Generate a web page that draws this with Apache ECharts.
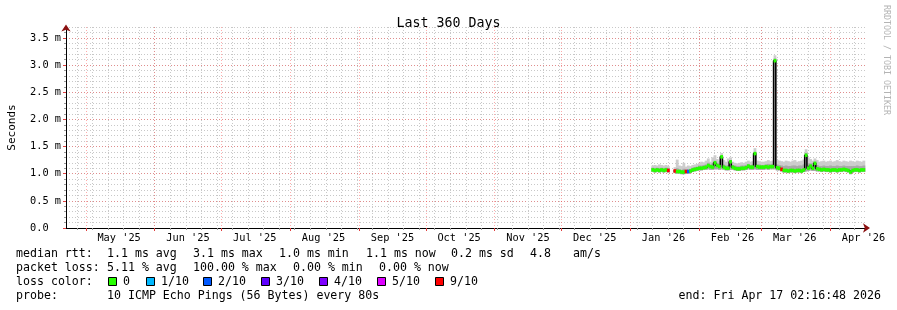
<!DOCTYPE html>
<html><head><meta charset="utf-8">
<script src="https://cdn.jsdelivr.net/npm/echarts@6/dist/echarts.min.js"></script>
<style>html,body{margin:0;padding:0;background:#fff}#c{width:897px;height:310px}</style>
</head><body><div id="c"></div>
<script>
// ---- data (one sample per day, starting at startDate) ----
const startDate = '2026-01-11';
const median = [1.07,1.06,1.07,1.06,1.07,1.06,1.07,1.06,null,null,
  1.05,1.04,1.04,1.03,1.03,1.04,1.04,
  1.05,1.07,1.08,1.09,1.10,1.10,1.11,1.12,1.15,1.13,1.12,1.20,1.15,1.13,1.31,1.12,1.10,1.10,1.22,1.12,1.10,1.09,1.09,1.10,
  1.10,1.11,1.14,1.12,1.12,1.37,1.13,1.12,1.12,1.12,1.13,1.12,1.13,1.13,3.08,1.11,1.10,1.08,1.06,1.06,
  1.05,1.06,1.06,1.05,1.06,1.06,1.05,1.07,1.34,1.10,1.14,1.10,1.19,1.09,1.08,1.07,1.08,1.07,1.07,1.06,
  1.07,1.07,1.06,1.07,1.07,1.08,1.07,1.06,1.03,1.06,1.07,1.07,1.06,1.07,1.07];
const smokeLo = [1.03,1.02,1.03,1.02,1.03,1.02,1.03,1.02,null,null,
  1.01,1.00,1.00,0.99,0.99,1.00,1.00,
  1.01,1.03,1.04,1.05,1.06,1.06,1.07,1.07,1.08,1.07,1.07,1.08,1.08,1.07,1.08,1.07,1.06,1.06,1.07,1.07,1.06,1.05,1.05,1.06,
  1.06,1.07,1.08,1.07,1.07,1.08,1.07,1.07,1.07,1.07,1.08,1.07,1.08,1.08,1.08,1.06,1.06,1.04,1.02,1.02,
  1.01,1.02,1.02,1.01,1.02,1.02,1.01,1.03,1.04,1.05,1.06,1.05,1.05,1.04,1.04,1.03,1.04,1.03,1.03,1.02,
  1.03,1.03,1.02,1.03,1.03,1.04,1.03,1.02,0.99,1.02,1.03,1.03,1.02,1.03,1.03];
const smokeMid = [1.11,1.10,1.11,1.10,1.11,1.10,1.11,1.10,null,null,
  1.08,1.10,1.08,1.07,1.09,1.08,1.08,
  1.09,1.11,1.12,1.13,1.15,1.15,1.16,1.17,1.20,1.17,1.19,1.24,1.20,1.17,1.33,1.17,1.15,1.16,1.24,1.16,1.15,1.14,1.14,1.15,
  1.15,1.16,1.18,1.16,1.17,1.40,1.17,1.17,1.16,1.16,1.17,1.18,1.17,1.18,3.12,1.17,1.16,1.15,1.14,1.15,
  1.14,1.14,1.15,1.15,1.14,1.15,1.15,1.17,1.38,1.19,1.19,1.16,1.22,1.16,1.14,1.14,1.15,1.14,1.14,1.15,
  1.14,1.14,1.15,1.14,1.14,1.15,1.14,1.14,1.14,1.14,1.14,1.15,1.14,1.14,1.15];
const smokeHi = [1.15,1.16,1.15,1.17,1.16,1.15,1.16,1.14,null,null,
  1.12,1.26,1.15,1.14,1.20,1.13,1.15,
  1.14,1.16,1.17,1.18,1.20,1.22,1.21,1.24,1.28,1.22,1.30,1.34,1.27,1.24,1.38,1.25,1.22,1.28,1.30,1.22,1.20,1.19,1.20,1.21,
  1.20,1.22,1.24,1.22,1.23,1.47,1.24,1.23,1.22,1.22,1.23,1.25,1.23,1.24,3.18,1.25,1.24,1.23,1.22,1.24,
  1.23,1.22,1.24,1.25,1.22,1.23,1.24,1.26,1.45,1.30,1.27,1.24,1.28,1.25,1.22,1.23,1.24,1.22,1.23,1.24,
  1.22,1.23,1.25,1.23,1.22,1.24,1.23,1.22,1.24,1.23,1.22,1.24,1.23,1.22,1.24];
// index into lossLabels / lossColors
const lossLevel = [0,0,0,0,0,0,0,6,null,null,
  6,0,0,0,0,6,2,
  0,0,0,0,0,0,0,0,0,0,0,0,0,0,0,0,0,0,0,0,0,0,0,0,
  0,0,0,0,0,0,0,0,0,0,0,0,0,0,0,0,0,6,0,0,
  0,0,0,0,0,0,0,0,0,0,0,0,0,0,0,0,0,0,0,0,
  0,0,0,0,0,0,0,0,0,0,0,0,0,0,0];
const lossLabels = ['0','1/10','2/10','3/10','4/10','5/10','9/10'];
const lossColors = ['#26ff00','#00b8ff','#0059ff','#5e00ff','#7e00ff','#dd00ff','#ff0000'];
const monthStarts = ['2025-05-01','2025-06-01','2025-07-01','2025-08-01','2025-09-01','2025-10-01',
  '2025-11-01','2025-12-01','2026-01-01','2026-02-01','2026-03-01','2026-04-01'];
const monthLabels = ["May '25","Jun '25","Jul '25","Aug '25","Sep '25","Oct '25",
  "Nov '25","Dec '25","Jan '26","Feb '26","Mar '26","Apr '26"];
const yTicks = [0,0.5,1.0,1.5,2.0,2.5,3.0,3.5];
const yTickLabels = ['0.0  ','0.5 m','1.0 m','1.5 m','2.0 m','2.5 m','3.0 m','3.5 m'];
const graphStart = '2025-04-22T02:16:48Z';
const graphEnd = '2026-04-17T02:16:48Z';
const firstSunday = '2025-04-27';

// ---- build ----
const DAY = 86400000;
const t0 = Date.parse(startDate + 'T00:00:00Z');
const xMin = Date.parse(graphStart), xMax = Date.parse(graphEnd);
const times = median.map((_, i) => t0 + i * DAY);
const weekTicks = [];
for (let t = Date.parse(firstSunday + 'T00:00:00Z'); t < xMax; t += 7 * DAY) weekTicks.push(t);
const monthTicks = monthStarts.map(d => Date.parse(d + 'T00:00:00Z'));
const monthLabelPos = monthTicks.map(t => t + 15 * DAY);

const loData = [], midData = [], lossData = [];
times.forEach((t, i) => {
  if (median[i] == null) return;
  loData.push([t, smokeLo[i], smokeHi[i]]);
  midData.push([t, smokeLo[i], smokeMid[i]]);
  lossData.push([t, median[i], lossLevel[i]]);
});
const medianData = times.map((t, i) => [t, median[i]]);

const MONO = '"DejaVu Sans Mono", monospace';
const GRID_C = '#c8c8c8';
const MGRID_C = 'rgba(255,60,60,0.42)';
const DOT = [1, 2];

function bandRender(color) {
  return function (params, api) {
    const t = api.value(0);
    const a = api.coord([t - DAY / 2, api.value(2)]);
    const b = api.coord([t + DAY / 2, api.value(1)]);
    return { type: 'rect', shape: { x: a[0], y: a[1], width: b[0] - a[0] + 0.6, height: Math.max(1, b[1] - a[1]) },
      style: { fill: color } };
  };
}

const baseX = { type: 'value', min: xMin, max: xMax, position: 'bottom', axisLine: { show: false, onZero: false },
  axisTick: { show: false }, axisLabel: { show: false }, splitLine: { show: false } };
const baseY = { type: 'value', min: 0, max: 3.7, position: 'left', axisLine: { show: false, onZero: false },
  axisTick: { show: false }, axisLabel: { show: false }, splitLine: { show: false } };

const option = {
  animation: false,
  backgroundColor: '#ffffff',
  title: { text: 'Last 360 Days', left: 'center', top: 12,
    textStyle: { fontFamily: MONO, fontSize: 13.3, fontWeight: 'normal', color: '#000' } },
  grid: { left: 66, right: 31, top: 27, bottom: 82, containLabel: false, outerBoundsMode: 'none' },
  xAxis: [
    Object.assign({}, baseX, { // weekly minor grid
      axisTick: { show: true, customValues: weekTicks, length: 2, lineStyle: { color: '#999' } },
      splitLine: { show: true, lineStyle: { color: GRID_C, type: DOT, width: 1 } } }),
    Object.assign({}, baseX, { // arrow
      axisLine: { show: true, onZero: false, symbol: ['none', 'arrow'], symbolSize: [7, 7], symbolOffset: [0, 4],
        lineStyle: { color: '#8b1010', width: 1 } } }),
    Object.assign({}, baseX, { // monthly major grid
      axisLine: { show: true, onZero: false, lineStyle: { color: '#000', width: 1 } },
      axisTick: { show: true, customValues: monthTicks, length: 3, lineStyle: { color: '#e04040' } },
      splitLine: { show: true, lineStyle: { color: MGRID_C, type: DOT, width: 1 } } }),
    Object.assign({}, baseX, { // month labels
      axisLabel: { show: true, customValues: monthLabelPos, margin: 5,
        fontFamily: MONO, fontSize: 10.3, color: '#000',
        formatter: v => { const i = monthLabelPos.indexOf(v); return i >= 0 ? monthLabels[i] : ''; } } })
  ],
  yAxis: [
    Object.assign({}, baseY, { interval: 0.1,
      axisTick: { show: true, length: 2, lineStyle: { color: '#999' } },
      splitLine: { show: true, lineStyle: { color: GRID_C, type: DOT, width: 1 } } }),
    Object.assign({}, baseY, {
      axisLine: { show: true, onZero: false, symbol: ['none', 'arrow'], symbolSize: [7, 7], symbolOffset: [0, 2.5],
        lineStyle: { color: '#8b1010', width: 1 } } }),
    Object.assign({}, baseY, {
      name: 'Seconds', nameLocation: 'middle', nameRotate: 90, nameGap: 48,
      nameTextStyle: { fontFamily: MONO, fontSize: 11, color: '#000' },
      axisLine: { show: true, onZero: false, lineStyle: { color: '#000', width: 1 } },
      axisTick: { show: true, customValues: yTicks, length: 3, lineStyle: { color: '#e04040' } },
      splitLine: { show: true, lineStyle: { color: MGRID_C, type: DOT, width: 1 } },
      axisLabel: { show: true, customValues: yTicks, margin: 5, fontFamily: MONO, fontSize: 10.3, color: '#000',
        formatter: v => { const i = yTicks.findIndex(y => Math.abs(y - v) < 1e-9); return i >= 0 ? yTickLabels[i] : ''; } } })
  ],
  series: [
    { type: 'custom', name: 'smoke', xAxisIndex: 0, yAxisIndex: 0, renderItem: bandRender('#cdcdcd'), data: loData, z: 2 },
    { type: 'custom', name: 'smoke core', xAxisIndex: 0, yAxisIndex: 0, renderItem: bandRender('#a9a9a9'), data: midData, z: 3 },
    { type: 'line', name: 'median rtt', xAxisIndex: 0, yAxisIndex: 0, data: medianData, step: 'middle',
      showSymbol: false, connectNulls: false, lineStyle: { color: '#000', width: 1.5 }, z: 4 },
    { type: 'custom', name: 'loss', xAxisIndex: 0, yAxisIndex: 0, data: lossData, z: 5,
      renderItem: (params, api) => {
        const t = api.value(0), m = api.value(1), lv = api.value(2);
        const a = api.coord([t - DAY / 2, m]), b = api.coord([t + DAY / 2, m]);
        return { type: 'rect', shape: { x: a[0], y: a[1] - 1.75, width: b[0] - a[0] + 0.6, height: 3.5 },
          style: { fill: lossColors[lv] } };
      } }
  ],
  graphic: []
};

const txt = (text, x, y, extra) => Object.assign({ type: 'text', x: x, y: y,
  style: { text: text, fontFamily: MONO, fontSize: 11.6, fill: '#000', verticalAlign: 'middle' } }, extra || {});
const g = option.graphic;
[['median rtt:', 16], ['1.1 ms avg', 107], ['3.1 ms max', 193], ['1.0 ms min', 279], ['1.1 ms now', 366],
 ['0.2 ms sd', 451], ['4.8', 530], ['am/s', 573]].forEach(p => g.push(txt(p[0], p[1], 254)));
[['packet loss:', 16], ['5.11 % avg', 107], ['100.00 % max', 193], ['0.00 % min', 293], ['0.00 % now', 379]]
  .forEach(p => g.push(txt(p[0], p[1], 268)));
g.push(txt('loss color:', 16, 282));
const boxX = [108, 146, 203, 261, 319, 377, 435];
lossLabels.forEach((l, i) => {
  g.push({ type: 'rect', shape: { x: boxX[i] + 0.5, y: 277.5, width: 8, height: 8 },
    style: { fill: lossColors[i], stroke: '#000', lineWidth: 1 } });
  g.push(txt(l, boxX[i] + 15, 282));
});
g.push(txt('probe:', 16, 296));
g.push(txt('10 ICMP Echo Pings (56 Bytes) every 80s', 107, 296));
const endTxt = txt('end: Fri Apr 17 02:16:48 2026', 881, 296);
endTxt.style.align = 'right';
g.push(endTxt);
g.push({ type: 'text', x: 886, y: 60, rotation: -Math.PI / 2,
  style: { text: 'RRDTOOL / TOBI OETIKER', fontFamily: MONO, fontSize: 8.3, fill: '#b4b4b4', align: 'center', verticalAlign: 'middle' } });

const chart = echarts.init(document.getElementById('c'), null, { renderer: 'canvas' });
chart.setOption(option);
</script></body></html>
